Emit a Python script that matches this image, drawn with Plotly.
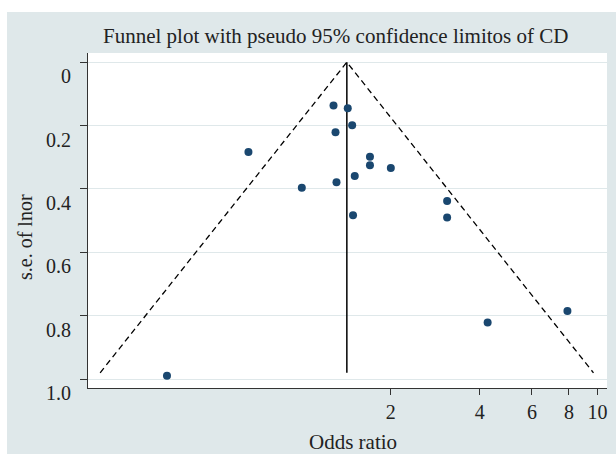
import plotly.graph_objects as go

# ---- data ----
odds_ratio = [1.28, 1.43, 1.48, 1.30, 0.66, 1.70, 1.70, 1.51, 1.00, 1.31, 1.49,
              2.00, 3.10, 3.10, 4.25, 7.91, 0.35]
se_lnor = [0.137, 0.145, 0.199, 0.221, 0.283, 0.298, 0.325, 0.359, 0.396, 0.379,
           0.483, 0.334, 0.438, 0.490, 0.821, 0.785, 0.989]
pooled_or = [1.42, 1.42]
pooled_se = [0.0, 0.98]
funnel_or = [0.208, 1.42, 9.69]
funnel_se = [0.98, 0.0, 0.98]
x_tickvals = [2, 4, 6, 8, 10]
x_ticktext = ["2", "4", "6", "8", "10"]
y_tickvals = [0, 0.2, 0.4, 0.6, 0.8, 1.0]
y_ticktext = ["0", "0.2", "0.4", "0.6", "0.8", "1.0"]

BG = "#dfe8ea"
FONT = "Liberation Serif"
TXT = "#222222"

W, H = 616, 454
ML, MR, MT, MB = 88, 9, 53, 66
PW, PH = W - ML - MR, H - MT - MB


def px_x(p):
    return (p - ML) / PW


def px_y(p):
    return (H - MB - p) / PH


fig = go.Figure()
fig.add_trace(go.Scatter(x=funnel_or, y=funnel_se, mode="lines",
                         line=dict(color="black", width=1.3, dash="6px,4px"),
                         hoverinfo="skip", showlegend=False))
fig.add_trace(go.Scatter(x=pooled_or, y=pooled_se, mode="lines",
                         line=dict(color="black", width=1.5),
                         hoverinfo="skip", showlegend=False))
fig.add_trace(go.Scatter(x=odds_ratio, y=se_lnor, mode="markers",
                         marker=dict(color="#1a476f", size=8),
                         showlegend=False))

fig.update_layout(
    width=W, height=H,
    margin=dict(l=ML, r=MR, t=MT, b=MB, pad=0),
    paper_bgcolor=BG, plot_bgcolor="white",
    font=dict(family=FONT, size=20, color=TXT),
    xaxis=dict(type="log", range=[-0.723, 1.032], tickmode="array",
               tickvals=x_tickvals, ticktext=x_ticktext,
               showgrid=False, zeroline=False,
               showline=True, linecolor="#333333", linewidth=1,
               ticks="outside", ticklen=6, tickcolor="#333333", tickwidth=1,
               tickfont=dict(family=FONT, size=20, color=TXT)),
    yaxis=dict(range=[1.028, -0.029], tickmode="array",
               tickvals=y_tickvals, ticktext=y_ticktext,
               showgrid=True, gridcolor=BG, gridwidth=1, zeroline=False,
               showline=True, linecolor="#333333", linewidth=1,
               ticks="outside", ticklen=7, tickcolor="#333333", tickwidth=1,
               ticklabelshift=-14, ticklabelstandoff=5,
               tickfont=dict(family=FONT, size=20, color=TXT)),
    shapes=[
        dict(type="rect", xref="paper", yref="paper",
             x0=px_x(0), x1=px_x(W), y0=px_y(12), y1=px_y(0),
             fillcolor="white", line=dict(width=0), layer="above"),
        dict(type="rect", xref="paper", yref="paper",
             x0=px_x(0), x1=px_x(7), y0=px_y(H), y1=px_y(0),
             fillcolor="white", line=dict(width=0), layer="above"),
    ],
    annotations=[
        dict(text="Funnel plot with pseudo 95% confidence limitos of CD",
             xref="paper", yref="paper", x=px_x(335), y=px_y(36),
             xanchor="center", yanchor="middle", showarrow=False,
             font=dict(family=FONT, size=21, color=TXT)),
        dict(text="Odds ratio", xref="paper", yref="paper",
             x=px_x(353), y=px_y(442), xanchor="center", yanchor="middle",
             showarrow=False, font=dict(family=FONT, size=21, color=TXT)),
        dict(text="s.e. of lnor", xref="paper", yref="paper",
             x=px_x(25), y=px_y(237), xanchor="center", yanchor="middle",
             textangle=-90, showarrow=False,
             font=dict(family=FONT, size=20, color=TXT)),
    ],
)

fig.write_html("out.html",
               config={"displayModeBar": False},
               post_script="document.body.style.margin='0';"
                           "document.body.style.padding='0';")
